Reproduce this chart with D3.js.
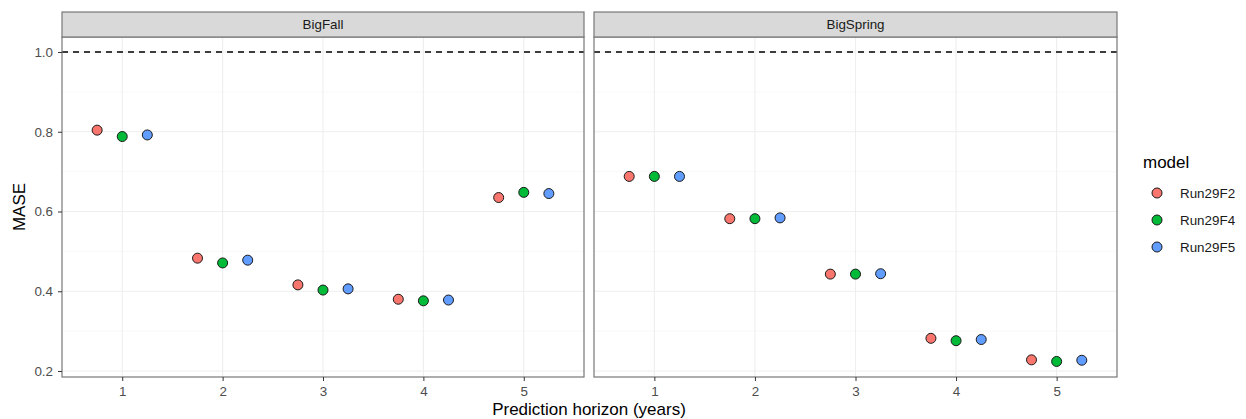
<!DOCTYPE html>
<html><head><meta charset="utf-8">
<script src="https://cdn.jsdelivr.net/npm/d3@7"></script>
<style>body{margin:0;background:#fff;} text{font-family:"Liberation Sans",Arial,sans-serif;}</style>
</head><body><svg id="c" width="1246" height="419"></svg>
<script>
const panels = ["BigFall", "BigSpring"];
const horizons = ["1", "2", "3", "4", "5"];
const models = ["Run29F2", "Run29F4", "Run29F5"];
const colors = ["#F8766D", "#00BA38", "#619CFF"];
const yTicks = [0.2, 0.4, 0.6, 0.8, 1.0];
const yMinor = [0.3, 0.5, 0.7, 0.9];
const bigFallF2 = [0.804, 0.483, 0.416, 0.380, 0.635];
const bigFallF4 = [0.788, 0.471, 0.403, 0.376, 0.648];
const bigFallF5 = [0.792, 0.478, 0.406, 0.378, 0.645];
const bigSpringF2 = [0.688, 0.582, 0.443, 0.282, 0.228];
const bigSpringF4 = [0.688, 0.582, 0.443, 0.276, 0.224];
const bigSpringF5 = [0.688, 0.584, 0.444, 0.279, 0.227];
const values = {
  BigFall: [bigFallF2, bigFallF4, bigFallF5],
  BigSpring: [bigSpringF2, bigSpringF4, bigSpringF5]
};

const svg = d3.select("#c");
const plotTop = 37, plotBottom = 377, stripTop = 12;
const panelX = [[62, 584], [594, 1117]];
const y = d3.scaleLinear().domain([0.185, 1.0376]).range([plotBottom, plotTop]);
const dodge = 0.25;
const FONT = "Liberation Sans, Arial, sans-serif";

panels.forEach((p, pi) => {
  const [x0, x1] = panelX[pi];
  const x = d3.scaleLinear().domain([0.4, 5.6]).range([x0, x1]);
  const g = svg.append("g");
  // grid
  g.selectAll(".ymin").data(yMinor).join("line")
    .attr("x1", x0).attr("x2", x1).attr("y1", d => y(d)).attr("y2", d => y(d))
    .attr("stroke", "#f5f5f5").attr("stroke-width", 0.6);
  g.selectAll(".ymaj").data(yTicks).join("line")
    .attr("x1", x0).attr("x2", x1).attr("y1", d => y(d)).attr("y2", d => y(d))
    .attr("stroke", "#eeeeee").attr("stroke-width", 1.1);
  g.selectAll(".xmaj").data(horizons).join("line")
    .attr("x1", d => x(+d)).attr("x2", d => x(+d)).attr("y1", plotTop).attr("y2", plotBottom)
    .attr("stroke", "#eeeeee").attr("stroke-width", 1.1);
  // dashed reference
  g.append("line").attr("x1", x0).attr("x2", x1).attr("y1", y(1)).attr("y2", y(1))
    .attr("stroke", "#000").attr("stroke-width", 1.5).attr("stroke-dasharray", "6,5");
  // points
  models.forEach((m, mi) => {
    g.selectAll(".pt" + mi).data(values[p][mi]).join("circle")
      .attr("cx", (d, i) => x(+horizons[i] + (mi - 1) * dodge))
      .attr("cy", d => y(d)).attr("r", 5)
      .attr("fill", colors[mi]).attr("stroke", "#1a1a1a").attr("stroke-width", 1);
  });
  // border
  g.append("rect").attr("x", x0).attr("y", plotTop).attr("width", x1 - x0).attr("height", plotBottom - plotTop)
    .attr("fill", "none").attr("stroke", "#777").attr("stroke-width", 1.2);
  // strip
  g.append("rect").attr("x", x0).attr("y", stripTop).attr("width", x1 - x0).attr("height", plotTop - stripTop)
    .attr("fill", "#d9d9d9").attr("stroke", "#777").attr("stroke-width", 1.2);
  g.append("text").attr("x", (x0 + x1) / 2).attr("y", (stripTop + plotTop) / 2 + 4.5)
    .attr("text-anchor", "middle").attr("font-size", 13.4).attr("fill", "#1a1a1a").text(p);
  // x axis
  const xa = d3.axisBottom(x).tickValues(horizons.map(Number)).tickFormat(d => d).tickSize(4).tickPadding(5);
  const ax = g.append("g").attr("transform", `translate(0,${plotBottom})`).call(xa);
  ax.select(".domain").remove();
  ax.selectAll("line").attr("stroke", "#333");
  ax.selectAll("text").attr("font-size", 13.4).attr("fill", "#4d4d4d").attr("font-family", FONT);
  if (pi === 0) {
    const ya = d3.axisLeft(y).tickValues(yTicks).tickFormat(d3.format(".1f")).tickSize(4).tickPadding(5);
    const ay = g.append("g").attr("transform", `translate(${x0},0)`).call(ya);
    ay.select(".domain").remove();
    ay.selectAll("line").attr("stroke", "#333");
    ay.selectAll("text").attr("font-size", 13.4).attr("fill", "#4d4d4d").attr("font-family", FONT);
  }
});

svg.append("text").attr("x", 589).attr("y", 415).attr("text-anchor", "middle")
  .attr("font-size", 17).attr("fill", "#000").text("Prediction horizon (years)");
svg.append("text").attr("transform", "translate(25,207) rotate(-90)").attr("text-anchor", "middle")
  .attr("font-size", 17).attr("fill", "#000").text("MASE");

// legend
const lg = svg.append("g");
lg.append("text").attr("x", 1143).attr("y", 168).attr("font-size", 17).attr("fill", "#000").text("model");
models.forEach((m, mi) => {
  const cy = 193 + mi * 27;
  lg.append("circle").attr("cx", 1157).attr("cy", cy).attr("r", 5)
    .attr("fill", colors[mi]).attr("stroke", "#1a1a1a").attr("stroke-width", 1);
  lg.append("text").attr("x", 1180).attr("y", cy + 5).attr("font-size", 13.4).attr("fill", "#1a1a1a").text(m);
});
</script></body></html>
